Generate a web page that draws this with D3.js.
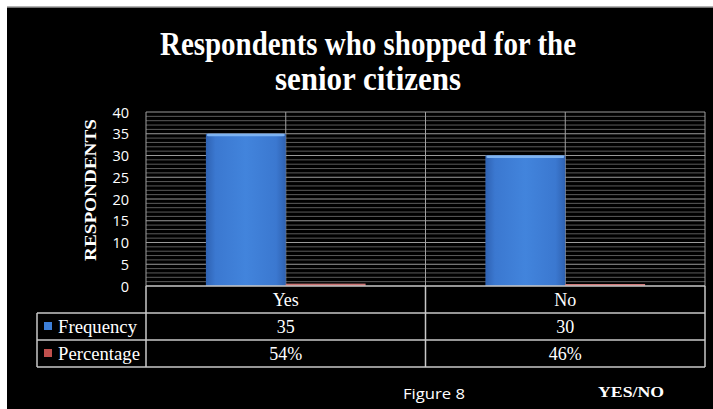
<!DOCTYPE html>
<html>
<head>
<meta charset="utf-8">
<script src="https://cdn.jsdelivr.net/npm/d3@7"></script>
<style>
  html, body { margin: 0; padding: 0; background: #ffffff; }
  svg { display: block; }
</style>
</head>
<body>
<script>
// Chart data
const categories = ["Yes", "No"];
const seriesNames = ["Frequency", "Percentage"];
const frequency = [35, 30];
const percentage = [0.54, 0.46];
const yTicks = [0, 5, 10, 15, 20, 25, 30, 35, 40];
const titleLines = ["Respondents who shopped for the", "senior citizens"];

const W = 713, H = 409;
const svg = d3.select("body").append("svg").attr("width", W).attr("height", H);

// page frame: thin white margin top/left, black panel
svg.append("rect").attr("x", 0).attr("y", 0).attr("width", W).attr("height", H).attr("fill", "#ffffff");
svg.append("rect").attr("x", 7).attr("y", 7).attr("width", W - 7).attr("height", H - 7).attr("fill", "#000000");
svg.append("line").attr("x1", 7).attr("x2", W).attr("y1", 7).attr("y2", 7).attr("stroke", "#9a9a9a").attr("stroke-width", 1.5);

const defs = svg.append("defs");
const blueGrad = defs.append("linearGradient").attr("id", "blueBar").attr("x1", 0).attr("x2", 1).attr("y1", 0).attr("y2", 0);
[["0%", "#2f62b2"], ["12%", "#3b78d0"], ["50%", "#4284dc"], ["88%", "#3b78d0"], ["100%", "#2f62b2"]]
  .forEach(([o, c]) => blueGrad.append("stop").attr("offset", o).attr("stop-color", c));
const redGrad = defs.append("linearGradient").attr("id", "redBar").attr("x1", 0).attr("x2", 0).attr("y1", 0).attr("y2", 1);
[["0%", "#e08a8a"], ["100%", "#a84a4a"]]
  .forEach(([o, c]) => redGrad.append("stop").attr("offset", o).attr("stop-color", c));

// scales
const plotLeft = 146, plotRight = 705, plotTop = 112, plotBottom = 286;
const y = d3.scaleLinear().domain([0, 40]).range([plotBottom, plotTop]);
const x0 = d3.scaleBand().domain(categories).range([plotLeft, plotRight]).padding(0);
const x1 = d3.scaleBand().domain(seriesNames).range([0, x0.bandwidth()]).paddingInner(0).paddingOuter(0.75);

// horizontal gridlines: minor every unit, major every 5
const grid = svg.append("g");
grid.selectAll("line.minor").data(d3.range(1, 40)).join("line")
  .attr("x1", plotLeft).attr("x2", plotRight)
  .attr("y1", d => y(d)).attr("y2", d => y(d))
  .attr("stroke", d => d % 5 === 0 ? "#9a9a9a" : "#5c5c5c")
  .attr("stroke-width", 1);
grid.append("line").attr("x1", plotLeft).attr("x2", plotRight).attr("y1", y(40)).attr("y2", y(40))
  .attr("stroke", "#9a9a9a").attr("stroke-width", 1.2);

// vertical gridlines at category edges and centres
const vLines = [];
categories.forEach(c => { vLines.push(x0(c)); vLines.push(x0(c) + x0.bandwidth() / 2); });
vLines.push(plotRight);
grid.selectAll("line.v").data(vLines).join("line")
  .attr("x1", d => d).attr("x2", d => d)
  .attr("y1", plotTop).attr("y2", plotBottom)
  .attr("stroke", "#a0a0a0").attr("stroke-width", 1);

// bars
const rows = categories.map((c, i) => ({ cat: c, values: [
  { key: "Frequency", v: frequency[i] },
  { key: "Percentage", v: percentage[i] }
]}));
const groups = svg.append("g").selectAll("g").data(rows).join("g")
  .attr("transform", d => `translate(${x0(d.cat)},0)`);
groups.selectAll("rect.bar").data(d => d.values).join("rect")
  .attr("x", d => x1(d.key))
  .attr("width", x1.bandwidth())
  .attr("y", d => y(d.v))
  .attr("height", d => y(0) - y(d.v))
  .attr("fill", d => d.key === "Frequency" ? "url(#blueBar)" : "url(#redBar)");
// light rim along the top of the frequency bars
groups.selectAll("rect.rim").data(d => d.values.filter(v => v.key === "Frequency")).join("rect")
  .attr("x", d => x1(d.key) + 1)
  .attr("width", x1.bandwidth() - 2)
  .attr("y", d => y(d.v))
  .attr("height", 2.5)
  .attr("rx", 1.5)
  .attr("fill", "#7db3f2");

// y-axis tick labels
const yAxis = d3.axisLeft(y).tickValues(yTicks).tickSize(0).tickPadding(0);
const yg = svg.append("g").attr("transform", "translate(129,0)").call(yAxis);
yg.select(".domain").remove();
yg.selectAll("text")
  .attr("fill", "#ffffff")
  .attr("font-family", "'Open Sans', sans-serif")
  .attr("font-size", 14.5)
  .attr("dy", "0.35em");

// y-axis title
svg.append("text")
  .attr("transform", "translate(96,190) rotate(-90)")
  .attr("text-anchor", "middle")
  .attr("fill", "#ffffff")
  .attr("font-family", "'Liberation Serif', serif")
  .attr("font-weight", "bold")
  .attr("font-size", 17)
  .attr("textLength", 142)
  .attr("lengthAdjust", "spacingAndGlyphs")
  .text("RESPONDENTS");

// title
const titleWidths = [416, 186];
svg.append("g").selectAll("text").data(titleLines).join("text")
  .attr("x", 368)
  .attr("y", (d, i) => 55 + i * 35)
  .attr("text-anchor", "middle")
  .attr("fill", "#ffffff")
  .attr("font-family", "'Liberation Serif', serif")
  .attr("font-weight", "bold")
  .attr("font-size", 33)
  .attr("textLength", (d, i) => titleWidths[i])
  .attr("lengthAdjust", "spacingAndGlyphs")
  .text(d => d);

// data table below the plot
const rowH = 27;
const tableTop = plotBottom;
const labelLeft = 37;
const table = svg.append("g");
const lineCol = "#c8c8c8";
table.append("line").attr("x1", plotLeft).attr("x2", plotRight).attr("y1", tableTop).attr("y2", tableTop).attr("stroke", lineCol).attr("stroke-width", 1.5);
[1, 2, 3].forEach(r => {
  table.append("line").attr("x1", labelLeft).attr("x2", plotRight)
    .attr("y1", tableTop + r * rowH).attr("y2", tableTop + r * rowH)
    .attr("stroke", lineCol).attr("stroke-width", 1.5);
});
table.append("line").attr("x1", labelLeft).attr("x2", labelLeft).attr("y1", tableTop + rowH).attr("y2", tableTop + 3 * rowH).attr("stroke", lineCol).attr("stroke-width", 1.5);
[plotLeft, x0("No"), plotRight].forEach(xv => {
  table.append("line").attr("x1", xv).attr("x2", xv).attr("y1", tableTop).attr("y2", tableTop + 3 * rowH)
    .attr("stroke", lineCol).attr("stroke-width", 1.5);
});

const serif = "'Liberation Serif', serif";
table.selectAll("text.cat").data(categories).join("text")
  .attr("x", d => x0(d) + x0.bandwidth() / 2)
  .attr("y", tableTop + rowH / 2 + 6)
  .attr("text-anchor", "middle").attr("fill", "#ffffff")
  .attr("font-family", serif).attr("font-size", 18)
  .text(d => d);

const tableRows = [
  { name: "Frequency", color: "#3d7fd8", vals: frequency.map(v => String(v)) },
  { name: "Percentage", color: "#c0504d", vals: percentage.map(v => d3.format(".0%")(v)) }
];
tableRows.forEach((r, i) => {
  const cy = tableTop + (i + 1) * rowH + rowH / 2;
  table.append("rect").attr("x", 44).attr("y", cy - 4.5).attr("width", 8).attr("height", 8).attr("fill", r.color);
  table.append("text").attr("x", 58).attr("y", cy + 6)
    .attr("fill", "#ffffff").attr("font-family", serif).attr("font-size", 19)
    .attr("textLength", i === 0 ? 79 : 82).attr("lengthAdjust", "spacingAndGlyphs")
    .text(r.name);
  categories.forEach((c, j) => {
    table.append("text")
      .attr("x", x0(c) + x0.bandwidth() / 2).attr("y", cy + 6)
      .attr("text-anchor", "middle").attr("fill", "#ffffff")
      .attr("font-family", serif).attr("font-size", 18)
      .text(r.vals[j]);
  });
});

// footer captions
svg.append("text").attr("x", 403).attr("y", 399)
  .attr("fill", "#ffffff").attr("font-family", "'Open Sans', sans-serif").attr("font-size", 14.5)
  .attr("textLength", 62).attr("lengthAdjust", "spacingAndGlyphs")
  .text("Figure 8");
svg.append("text").attr("x", 598).attr("y", 397)
  .attr("fill", "#ffffff").attr("font-family", serif).attr("font-weight", "bold").attr("font-size", 14)
  .attr("textLength", 66).attr("lengthAdjust", "spacingAndGlyphs")
  .text("YES/NO");
</script>
</body>
</html>
